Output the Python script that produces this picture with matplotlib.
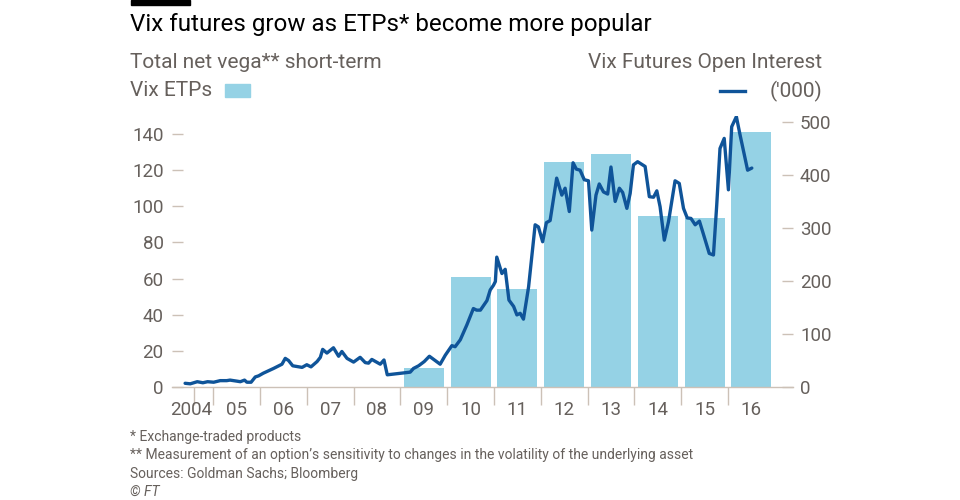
import matplotlib
matplotlib.use('Agg')
import matplotlib.pyplot as plt
from matplotlib.lines import Line2D
from matplotlib.patches import Rectangle

plt.rcParams['font.family'] = ['Roboto', 'DejaVu Sans']

# ---- data ----
bar_years = [2009, 2010, 2011, 2012, 2013, 2014, 2015, 2016]
bar_values = [10.7, 61.0, 54.2, 124.7, 128.8, 94.6, 93.7, 141.3]  # total net vega, Vix ETPs

line_years = [2004.40, 2004.51, 2004.66, 2004.78, 2004.88, 2005.01, 2005.15, 2005.29,
              2005.36, 2005.51, 2005.58, 2005.67, 2005.72, 2005.81, 2005.90, 2005.97,
              2006.07, 2006.29, 2006.47, 2006.54, 2006.61, 2006.70, 2006.90, 2007.00,
              2007.09, 2007.22, 2007.29, 2007.34, 2007.43, 2007.57, 2007.68, 2007.75,
              2007.86, 2008.00, 2008.14, 2008.25, 2008.32, 2008.39, 2008.57, 2008.65,
              2008.72, 2009.21, 2009.28, 2009.39, 2009.51, 2009.62, 2009.85, 2009.96,
              2010.10, 2010.17, 2010.28, 2010.42, 2010.56, 2010.63, 2010.71, 2010.85,
              2010.92, 2010.99, 2011.03, 2011.06, 2011.17, 2011.24, 2011.32, 2011.42,
              2011.49, 2011.56, 2011.63, 2011.74, 2011.88, 2011.95, 2012.04, 2012.12,
              2012.20, 2012.34, 2012.45, 2012.52, 2012.61, 2012.69, 2012.76, 2012.84,
              2012.93, 2013.02, 2013.09, 2013.18, 2013.25, 2013.34, 2013.43, 2013.50,
              2013.59, 2013.68, 2013.75, 2013.84, 2013.91, 2013.98, 2014.07, 2014.23,
              2014.32, 2014.41, 2014.48, 2014.55, 2014.64, 2014.73, 2014.87, 2014.96,
              2015.05, 2015.13, 2015.21, 2015.30, 2015.39, 2015.47, 2015.60, 2015.69,
              2015.76, 2015.83, 2015.92, 2016.01, 2016.08, 2016.18, 2016.26, 2016.35,
              2016.42, 2016.51]
line_values = [7, 6, 10, 8, 10, 9, 12, 12,
               13, 11, 10, 13, 9, 9, 19, 21,
               26, 35, 43, 54, 50, 40, 37, 42,
               38, 48, 56, 71, 64, 74, 58, 67,
               54, 47, 56, 46, 45, 52, 43, 51,
               23, 28, 35, 40, 48, 58, 43, 60,
               78, 76, 89, 117, 148, 145, 145, 163,
               183, 192, 199, 245, 214, 222, 164, 152,
               136, 139, 128, 189, 306, 302, 274, 310,
               314, 394, 362, 375, 331, 423, 411, 409,
               391, 389, 296, 362, 383, 368, 364, 415,
               350, 375, 367, 337, 365, 419, 425, 416,
               359, 358, 370, 340, 277, 312, 389, 384,
               337, 319, 318, 306, 313, 290, 252, 249,
               343, 450, 469, 372, 491, 510, 475, 438,
               409, 413]  # Vix futures open interest ('000)

year_labels = ['2004', '05', '06', '07', '08', '09', '10', '11', '12', '13', '14', '15', '16']
left_ticks = [0, 20, 40, 60, 80, 100, 120, 140]
right_ticks = [0, 100, 200, 300, 400, 500]

BAR = '#95d2e5'
LINE = '#0f5499'
TEXT = '#66605c'
TICK = '#ccc1b7'

W, H = 960, 500
fig = plt.figure(figsize=(W / 100, H / 100), dpi=100)
fig.patch.set_facecolor('white')

def fx(px):
    return px / W

def fy(py):
    return 1 - py / H

ax = fig.add_axes([fx(172), fy(387), (793 - 172) / W, (387 - 115.9) / H])
ax.set_facecolor('none')
ax2 = ax.twinx()

ax.bar([y + 0.5 for y in bar_years], bar_values, width=0.855, color=BAR, zorder=1)
ax2.plot(line_years, line_values, color=LINE, lw=2.4, solid_joinstyle='round', solid_capstyle='round')

ax.set_xlim(2004.12, 2017.39)
ax.set_ylim(0, 150)
ax2.set_ylim(0, 150 * 1.807 / 0.53)

for a in (ax, ax2):
    for s in ('top', 'left', 'right', 'bottom'):
        a.spines[s].set_visible(False)
ax.spines['bottom'].set_visible(True)
ax.spines['bottom'].set_color(TICK)
ax.spines['bottom'].set_linewidth(1)

ax.set_xticks([2004.58] + list(range(2005, 2017)))
ax.set_xticklabels([])
ax.tick_params(axis='x', which='major', length=13, color=TICK, width=1, direction='out')
ax.set_xticks([2004.52] + [y + 0.5 for y in range(2005, 2017)], minor=True)
ax.set_xticklabels(year_labels, minor=True)
ax.tick_params(axis='x', which='minor', length=0, pad=10, labelsize=13.5, labelcolor=TEXT)

ax.set_yticks(left_ticks)
ax.set_yticklabels([str(v) for v in left_ticks])
ax.tick_params(axis='y', direction='in', length=8, color=TICK, width=1, pad=6,
               labelsize=13.5, labelcolor=TEXT)
ax2.set_yticks(right_ticks)
ax2.set_yticklabels([str(v) for v in right_ticks])
ax2.tick_params(axis='y', direction='in', length=8, color=TICK, width=1, pad=5,
                labelsize=13.5, labelcolor=TEXT)

# header
fig.add_artist(Rectangle((fx(131), fy(5)), 59 / W, 5 / H, color='black',
                         transform=fig.transFigure))
fig.text(fx(130), fy(25), 'Vix futures grow as ETPs* become more popular',
         fontsize=17.4, color='black', va='center', ha='left')
fig.text(fx(130), fy(62), 'Total net vega** short-term', fontsize=15,
         color=TEXT, va='center', ha='left')
fig.text(fx(130), fy(91), 'Vix ETPs', fontsize=15, color=TEXT, va='center', ha='left')
fig.add_artist(Rectangle((fx(225), fy(97)), 25 / W, 13 / H, color=BAR,
                         transform=fig.transFigure))
fig.text(fx(822), fy(62), 'Vix Futures Open Interest', fontsize=15,
         color=TEXT, va='center', ha='right')
fig.text(fx(822), fy(91), "('000)", fontsize=15, color=TEXT, va='center', ha='right')
fig.add_artist(Line2D([fx(720), fx(745)], [fy(91), fy(91)], color=LINE, lw=2.4,
                      transform=fig.transFigure))

# footnotes
notes = ['* Exchange-traded products',
         "** Measurement of an option\u2019s sensitivity to changes in the volatility of the underlying asset",
         'Sources: Goldman Sachs; Bloomberg']
for i, t in enumerate(notes):
    fig.text(fx(130), fy(437 + 18.5 * i), t, fontsize=10, color=TEXT, va='center', ha='left')
fig.text(fx(130), fy(492), '\u00a9 FT', fontsize=10, color=TEXT, va='center', ha='left',
         style='italic')

fig.savefig('out.png', dpi=100, facecolor='white')
